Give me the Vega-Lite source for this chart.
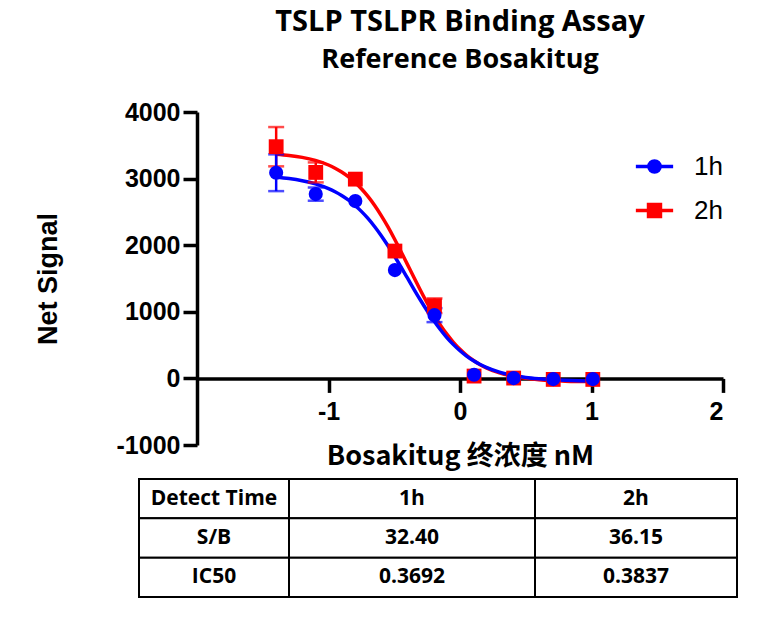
{
  "$schema": "https://vega.github.io/schema/vega-lite/v6.json",
  "padding": {"left": 34, "top": 8, "right": 5, "bottom": 5},
  "datasets": {
    "curve": [
      {"series": "2h", "x": -1.4, "y": 3367}, {"series": "2h", "x": -1.3, "y": 3348},
      {"series": "2h", "x": -1.2, "y": 3319}, {"series": "2h", "x": -1.1, "y": 3273},
      {"series": "2h", "x": -1.0, "y": 3204}, {"series": "2h", "x": -0.95, "y": 3156},
      {"series": "2h", "x": -0.9, "y": 3099}, {"series": "2h", "x": -0.85, "y": 3029},
      {"series": "2h", "x": -0.8, "y": 2946}, {"series": "2h", "x": -0.75, "y": 2847},
      {"series": "2h", "x": -0.7, "y": 2732}, {"series": "2h", "x": -0.65, "y": 2599},
      {"series": "2h", "x": -0.6, "y": 2448}, {"series": "2h", "x": -0.55, "y": 2282},
      {"series": "2h", "x": -0.5, "y": 2101}, {"series": "2h", "x": -0.45, "y": 1910},
      {"series": "2h", "x": -0.4, "y": 1712}, {"series": "2h", "x": -0.35, "y": 1514},
      {"series": "2h", "x": -0.3, "y": 1320}, {"series": "2h", "x": -0.25, "y": 1134},
      {"series": "2h", "x": -0.2, "y": 962}, {"series": "2h", "x": -0.15, "y": 804},
      {"series": "2h", "x": -0.1, "y": 665}, {"series": "2h", "x": -0.05, "y": 542},
      {"series": "2h", "x": 0.0, "y": 437}, {"series": "2h", "x": 0.05, "y": 347},
      {"series": "2h", "x": 0.1, "y": 272}, {"series": "2h", "x": 0.15, "y": 210},
      {"series": "2h", "x": 0.2, "y": 159}, {"series": "2h", "x": 0.3, "y": 83},
      {"series": "2h", "x": 0.4, "y": 34}, {"series": "2h", "x": 0.5, "y": 1},
      {"series": "2h", "x": 0.6, "y": -19}, {"series": "2h", "x": 0.7, "y": -32},
      {"series": "2h", "x": 0.8, "y": -41}, {"series": "2h", "x": 0.9, "y": -46},
      {"series": "2h", "x": 1.01, "y": -49},
      {"series": "1h", "x": -1.4, "y": 3021}, {"series": "1h", "x": -1.3, "y": 3001},
      {"series": "1h", "x": -1.2, "y": 2969}, {"series": "1h", "x": -1.1, "y": 2921},
      {"series": "1h", "x": -1.0, "y": 2850}, {"series": "1h", "x": -0.95, "y": 2803},
      {"series": "1h", "x": -0.9, "y": 2747}, {"series": "1h", "x": -0.85, "y": 2680},
      {"series": "1h", "x": -0.8, "y": 2600}, {"series": "1h", "x": -0.75, "y": 2508},
      {"series": "1h", "x": -0.7, "y": 2402}, {"series": "1h", "x": -0.65, "y": 2281},
      {"series": "1h", "x": -0.6, "y": 2146}, {"series": "1h", "x": -0.55, "y": 1999},
      {"series": "1h", "x": -0.5, "y": 1842}, {"series": "1h", "x": -0.45, "y": 1677},
      {"series": "1h", "x": -0.4, "y": 1508}, {"series": "1h", "x": -0.35, "y": 1338},
      {"series": "1h", "x": -0.3, "y": 1173}, {"series": "1h", "x": -0.25, "y": 1016},
      {"series": "1h", "x": -0.2, "y": 869}, {"series": "1h", "x": -0.15, "y": 734},
      {"series": "1h", "x": -0.1, "y": 613}, {"series": "1h", "x": -0.05, "y": 507},
      {"series": "1h", "x": 0.0, "y": 415}, {"series": "1h", "x": 0.05, "y": 335},
      {"series": "1h", "x": 0.1, "y": 268}, {"series": "1h", "x": 0.15, "y": 212},
      {"series": "1h", "x": 0.2, "y": 165}, {"series": "1h", "x": 0.3, "y": 94},
      {"series": "1h", "x": 0.4, "y": 46}, {"series": "1h", "x": 0.5, "y": 14},
      {"series": "1h", "x": 0.6, "y": -6}, {"series": "1h", "x": 0.7, "y": -20},
      {"series": "1h", "x": 0.8, "y": -29}, {"series": "1h", "x": 0.9, "y": -35},
      {"series": "1h", "x": 1.01, "y": -38}
    ],
    "points": [
      {"series": "2h", "x": -1.398, "y": 3479, "sd": 295},
      {"series": "2h", "x": -1.097, "y": 3093, "sd": 150},
      {"series": "2h", "x": -0.796, "y": 2992, "sd": 0},
      {"series": "2h", "x": -0.495, "y": 1912, "sd": 0},
      {"series": "2h", "x": -0.194, "y": 1091, "sd": 110},
      {"series": "2h", "x": 0.107, "y": 35, "sd": 0},
      {"series": "2h", "x": 0.408, "y": 5, "sd": 0},
      {"series": "2h", "x": 0.709, "y": -15, "sd": 0},
      {"series": "2h", "x": 1.01, "y": -15, "sd": 0},
      {"series": "1h", "x": -1.398, "y": 3088, "sd": 276},
      {"series": "1h", "x": -1.097, "y": 2767, "sd": 99},
      {"series": "1h", "x": -0.796, "y": 2662, "sd": 0},
      {"series": "1h", "x": -0.495, "y": 1626, "sd": 0},
      {"series": "1h", "x": -0.194, "y": 950, "sd": 105},
      {"series": "1h", "x": 0.107, "y": 55, "sd": 0},
      {"series": "1h", "x": 0.408, "y": 5, "sd": 0},
      {"series": "1h", "x": 0.709, "y": -10, "sd": 0},
      {"series": "1h", "x": 1.01, "y": -10, "sd": 0}
    ],
    "table": [
      {"row": "Detect Time", "col": "label", "value": "Detect Time"},
      {"row": "Detect Time", "col": "1h", "value": "1h"},
      {"row": "Detect Time", "col": "2h", "value": "2h"},
      {"row": "S/B", "col": "label", "value": "S/B"},
      {"row": "S/B", "col": "1h", "value": "32.40"},
      {"row": "S/B", "col": "2h", "value": "36.15"},
      {"row": "IC50", "col": "label", "value": "IC50"},
      {"row": "IC50", "col": "1h", "value": "0.3692"},
      {"row": "IC50", "col": "2h", "value": "0.3837"}
    ]
  },
  "vconcat": [
    {
      "width": 584,
      "height": 333,
      "title": {
        "text": "TSLP TSLPR Binding Assay",
        "subtitle": "Reference Bosakitug",
        "anchor": "middle",
        "dx": 29,
        "font": "Open Sans",
        "fontSize": 29,
        "fontWeight": "bold",
        "color": "black",
        "subtitleFont": "Open Sans",
        "subtitleFontSize": 27,
        "subtitleFontWeight": "bold",
        "subtitleColor": "black",
        "subtitlePadding": 10,
        "offset": 27
      },
      "layer": [
        {
          "data": {"name": "curve"},
          "mark": {"type": "line", "strokeWidth": 3.5, "interpolate": "monotone"},
          "encoding": {
            "x": {
              "field": "x",
              "type": "quantitative",
              "title": "Bosakitug 终浓度 nM",
              "scale": {"domain": [-2, 2], "range": [58, 584], "nice": false, "zero": false},
              "axis": {
                "values": [-1, 0, 1, 2],
                "offset": -66.6,
                "grid": false,
                "domainColor": "black",
                "domainWidth": 3.5,
                "tickColor": "black",
                "tickWidth": 3.5,
                "tickSize": 14,
                "labelFont": "Liberation Sans",
                "labelFontSize": 25,
                "labelFontWeight": "bold",
                "labelColor": "black",
                "labelPadding": 7,
                "labelExpr": "'' + datum.value",
                "titleFont": "Noto Sans CJK SC",
                "titleFontSize": 27,
                "titleFontWeight": "bold",
                "titleColor": "black",
                "titlePadding": 19
              }
            },
            "y": {
              "field": "y",
              "type": "quantitative",
              "title": "Net Signal",
              "scale": {"domain": [-1000, 4000], "nice": false, "zero": false},
              "axis": {
                "values": [-1000, 0, 1000, 2000, 3000, 4000],
                "offset": -58,
                "grid": false,
                "domainColor": "black",
                "domainWidth": 3.5,
                "tickColor": "black",
                "tickWidth": 3.5,
                "tickSize": 14,
                "labelFont": "Liberation Sans",
                "labelFontSize": 25,
                "labelFontWeight": "bold",
                "labelColor": "black",
                "labelPadding": 3,
                "labelExpr": "'' + datum.value",
                "titleFont": "Liberation Sans",
                "titleFontSize": 27,
                "titleFontWeight": "bold",
                "titleColor": "black",
                "titlePadding": 54
              }
            },
            "color": {
              "field": "series",
              "type": "nominal",
              "scale": {"domain": ["1h", "2h"], "range": ["#0000ff", "#ff0000"]},
              "legend": {
                "title": null,
                "orient": "none",
                "legendX": 495,
                "legendY": 34,
                "padding": 0,
                "symbolSize": 1390,
                "symbolStrokeWidth": 3.5,
                "labelFont": "Liberation Sans",
                "labelFontSize": 26,
                "labelColor": "black",
                "labelOffset": 19,
                "rowPadding": 10,
                "encode": {
                  "symbols": {
                    "update": {
                      "shape": {"signal": "datum.value === '1h' ? 'M-1,0H1M-0.3,0A0.3,0.3,0,1,1,0.3,0A0.3,0.3,0,1,1,-0.3,0Z' : 'M-1,0H1M-0.32,-0.32H0.32V0.32H-0.32Z'"},
                      "stroke": {"signal": "datum.value === '1h' ? '#0000ff' : '#ff0000'"},
                      "fill": {"signal": "datum.value === '1h' ? '#0000ff' : '#ff0000'"},
                      "strokeWidth": {"value": 3.5},
                      "opacity": {"value": 1}
                    }
                  }
                }
              }
            }
          }
        },
        {
          "data": {"name": "points"},
          "transform": [{"filter": "datum.sd > 0"}],
          "mark": {
            "type": "errorbar",
            "rule": {"strokeWidth": 2.5},
            "ticks": {"size": 16, "thickness": 2.5}
          },
          "encoding": {
            "x": {"field": "x", "type": "quantitative", "title": "Bosakitug 终浓度 nM"},
            "y": {"field": "y", "type": "quantitative", "title": "Net Signal"},
            "yError": {"field": "sd"},
            "color": {"field": "series", "type": "nominal"}
          }
        },
        {
          "data": {"name": "points"},
          "transform": [{"filter": "datum.series === '2h'"}],
          "mark": {"type": "point", "shape": "square", "filled": true, "opacity": 1, "size": 220},
          "encoding": {
            "x": {"field": "x", "type": "quantitative", "title": "Bosakitug 终浓度 nM"},
            "y": {"field": "y", "type": "quantitative", "title": "Net Signal"},
            "color": {"field": "series", "type": "nominal"}
          }
        },
        {
          "data": {"name": "points"},
          "transform": [{"filter": "datum.series === '1h'"}],
          "mark": {"type": "point", "shape": "circle", "filled": true, "opacity": 1, "size": 200},
          "encoding": {
            "x": {"field": "x", "type": "quantitative", "title": "Bosakitug 终浓度 nM"},
            "y": {"field": "y", "type": "quantitative", "title": "Net Signal"},
            "color": {"field": "series", "type": "nominal"}
          }
        }
      ]
    },
    {
      "hconcat": [
        {
          "width": 150,
          "height": 118,
          "data": {"name": "table"},
          "transform": [{"filter": "datum.col === 'label'"}],
          "layer": [
            {
              "mark": {"type": "rect", "fill": "white", "stroke": "black", "strokeWidth": 2},
              "encoding": {
                "y": {"field": "row", "type": "nominal", "sort": null, "scale": {"domain": ["Detect Time", "S/B", "IC50"], "paddingInner": 0, "paddingOuter": 0}, "axis": null}
              }
            },
            {
              "mark": {"type": "text", "font": "Open Sans", "fontSize": 21, "fontWeight": "bold", "color": "black"},
              "encoding": {
                "y": {"field": "row", "type": "nominal", "sort": null, "axis": null},
                "text": {"field": "value"}
              }
            }
          ]
        },
        {
          "width": 246,
          "height": 118,
          "data": {"name": "table"},
          "transform": [{"filter": "datum.col === '1h'"}],
          "layer": [
            {
              "mark": {"type": "rect", "fill": "white", "stroke": "black", "strokeWidth": 2},
              "encoding": {
                "y": {"field": "row", "type": "nominal", "sort": null, "scale": {"domain": ["Detect Time", "S/B", "IC50"], "paddingInner": 0, "paddingOuter": 0}, "axis": null}
              }
            },
            {
              "mark": {"type": "text", "font": "Open Sans", "fontSize": 21, "fontWeight": "bold", "color": "black"},
              "encoding": {
                "y": {"field": "row", "type": "nominal", "sort": null, "axis": null},
                "text": {"field": "value"}
              }
            }
          ]
        },
        {
          "width": 202,
          "height": 118,
          "data": {"name": "table"},
          "transform": [{"filter": "datum.col === '2h'"}],
          "layer": [
            {
              "mark": {"type": "rect", "fill": "white", "stroke": "black", "strokeWidth": 2},
              "encoding": {
                "y": {"field": "row", "type": "nominal", "sort": null, "scale": {"domain": ["Detect Time", "S/B", "IC50"], "paddingInner": 0, "paddingOuter": 0}, "axis": null}
              }
            },
            {
              "mark": {"type": "text", "font": "Open Sans", "fontSize": 21, "fontWeight": "bold", "color": "black"},
              "encoding": {
                "y": {"field": "row", "type": "nominal", "sort": null, "axis": null},
                "text": {"field": "value"}
              }
            }
          ]
        }
      ],
      "spacing": 0,
      "bounds": "flush"
    }
  ],
  "spacing": 8,
  "config": {"view": {"stroke": null}}
}
